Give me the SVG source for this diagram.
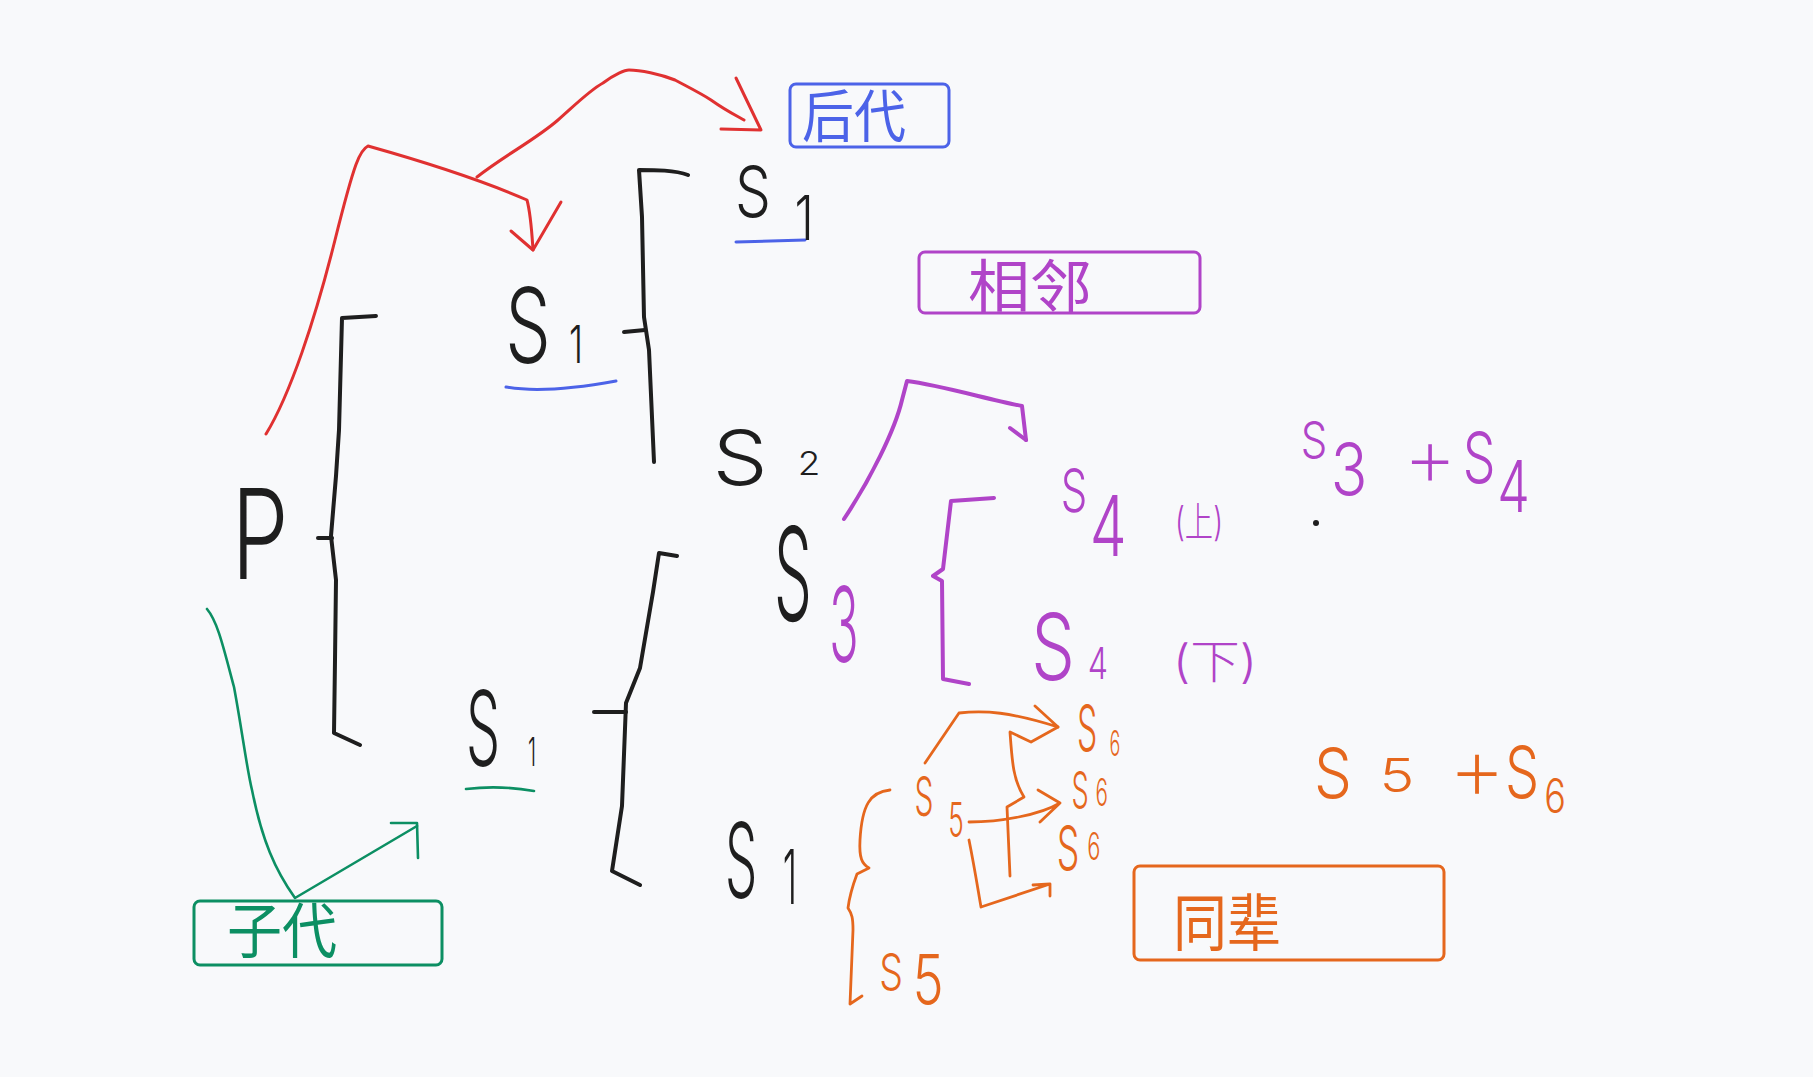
<svg xmlns="http://www.w3.org/2000/svg" width="1813" height="1077" viewBox="0 0 1813 1077">
<style>
.bg{fill:#f8f9fb}
.ln{fill:none;stroke-linecap:round;stroke-linejoin:round}
.k{stroke:#1e1e1e;stroke-width:4}
.r{stroke:#e03131;stroke-width:3}
.b{stroke:#4c63e8;stroke-width:3}
.g{stroke:#0c8f63;stroke-width:2.6}
.p{stroke:#b044c8;stroke-width:4}
.o{stroke:#e5671d;stroke-width:2.8}
.box{fill:none;stroke-width:3}
.t{font-family:Inter,"Liberation Sans","Noto Sans CJK SC",sans-serif;font-weight:300;text-anchor:middle}
.pl{font-weight:200}
.cj{font-family:"Noto Sans CJK SC","Liberation Sans",sans-serif;text-anchor:middle}
.tk{fill:#1e1e1e}.tp{fill:#b044c8}.to{fill:#e5671d}.tb{fill:#4c63e8}.tg{fill:#0c8f63}
</style>
<rect class="bg" x="0" y="0" width="1813" height="1077"/>

<g id="brackets">
<path class="ln k" d="M376,316 L342,318 L339,430 L336,476 L331,536 L336,580 L335,660 L334,733 L360,745"/>
<path class="ln k" d="M318,538 L332,538"/>
<path class="ln k" d="M688,175 C675,170 655,170 639,170 L642,217 L644,317 L649,350 L654,462"/>
<path class="ln k" d="M624,332 L645,330"/>
<path class="ln k" d="M677,556 L659,553 L653,592 L640,668 L626,703 L622,806 L612,871 L640,885"/>
<path class="ln k" d="M594,712 L626,712"/>
<path class="ln p" d="M994,498 L951,501 L943,569 L933,576 L942,581 L943,679 L969,684"/>
<path class="ln o" d="M890,790 C870,792 862,805 860,840 C859,858 862,864 869,868 L857,874 C851,890 849,900 848,908 C852,914 853,918 853,930 L850,1004 L862,996"/>
</g>

<g id="underlines">
<path class="ln b" d="M736,242 L805,240"/>
<path class="ln b" d="M506,387 Q545,394 616,381"/>
<path class="ln g" d="M466,789 Q500,785 534,791"/>
</g>

<g id="connectors">
<path class="ln r" d="M266,434 C290,395 315,320 335,240 S360,150 368,146 C400,155 470,175 527,200 C531,215 532,235 533,250"/>
<path class="ln r" stroke-width="4" d="M511,231 L533,250 L561,202"/>
<path class="ln r" d="M477,177 C505,155 535,140 558,120 C575,105 590,90 603,83 C615,74 625,70 629,70 C640,70 660,74 675,80 C690,88 702,94 711,100 C725,110 735,115 744,120"/>
<path class="ln r" stroke-width="5" d="M736,78 L761,130 L721,129"/>
<path class="ln p" d="M844,519 C870,480 895,430 902,400 L907,381 C940,385 990,400 1022,406 L1026,440"/>
<path class="ln p" d="M1010,428 L1026,440"/>
<path class="ln g" d="M207,609 C218,622 224,650 234,687 C242,730 247,770 252,790 C262,840 275,870 295,898 L417,826"/>
<path class="ln g" stroke-width="3.5" d="M391,823 L417,823 L418,858"/>
<path class="ln o" d="M925,763 L959,713 C985,710 1010,712 1058,727 L1035,706"/>
<path class="ln o" d="M1058,727 L1031,742 L1010,732 C1012,760 1013,780 1024,797 L1007,807 L1010,876"/>
<path class="ln o" d="M969,822 C1000,822 1040,815 1060,803 L1038,790 M1060,803 L1040,822"/>
<path class="ln o" d="M969,840 C975,870 978,890 981,907 L1050,884 L1033,885 M1050,884 L1050,896"/>
</g>

<g id="node-P"><text class="t tk" x="260" y="579" font-size="125" textLength="57" lengthAdjust="spacingAndGlyphs">P</text></g>

<g id="node-S1-top">
<text class="t tk" transform="translate(753,0) scale(0.79,1)"><tspan x="0" y="217" font-size="72">S</tspan><tspan x="64.6" y="240" font-size="62">1</tspan></text>
</g>
<g id="node-S1-mid">
<text class="t tk" transform="translate(528,0) scale(0.686,1)"><tspan x="0" y="363" font-size="105">S</tspan><tspan x="70" y="363" font-size="52">1</tspan></text>
</g>
<g id="node-S2">
<text class="t tk" transform="translate(740,0) scale(1.15,1)"><tspan x="0" y="485" font-size="76">S</tspan><tspan x="60" y="475" font-size="32">2</tspan></text>
</g>
<g id="node-S3">
<text class="t tk" transform="translate(793,0) scale(0.461,1)"><tspan x="0" y="621" font-size="130">S</tspan><tspan class="tp" x="110.6" y="662" font-size="105">3</tspan></text>
</g>
<g id="node-S1-low">
<text class="t tk" transform="translate(483,0) scale(0.514,1)"><tspan x="0" y="766" font-size="105">S</tspan><tspan x="95.3" y="766" font-size="40">1</tspan></text>
</g>
<g id="node-S1-bottom">
<text class="t tk" transform="translate(741,0) scale(0.486,1)"><tspan x="0" y="898" font-size="105">S</tspan><tspan x="100.8" y="904" font-size="75">1</tspan></text>
</g>

<g id="node-S4-up">
<text class="t tp" transform="translate(1074,0) scale(0.7,1)"><tspan x="0" y="512" font-size="60">S</tspan><tspan x="49" y="556" font-size="84">4</tspan></text>
<text class="t tp" x="1199" y="536" font-size="40" textLength="48" lengthAdjust="spacingAndGlyphs">(上)</text>
</g>
<g id="node-S4-down">
<text class="t tp" transform="translate(1053,0) scale(0.75,1)"><tspan x="0" y="680" font-size="92">S</tspan><tspan x="60" y="679" font-size="43">4</tspan></text>
<text class="t tp" x="1215" y="678" font-size="46" textLength="84" lengthAdjust="spacingAndGlyphs">(下)</text>
</g>
<g id="node-S3-plus-S4">
<text class="t tp" transform="translate(1314,0) scale(0.84,1)"><tspan x="0" y="458" font-size="50">S</tspan><tspan x="41.7" y="495" font-size="72">3</tspan></text>
<text class="t tp pl" x="1430" y="486" font-size="84">+</text>
<text class="t tp" transform="translate(1479,0) scale(0.72,1)"><tspan x="0" y="483" font-size="72">S</tspan><tspan x="48" y="512" font-size="72">4</tspan></text>
<circle cx="1316" cy="523" r="3" fill="#1e1e1e"/>
</g>

<g id="node-S6-top">
<text class="t to" transform="translate(1087,0) scale(0.5,1)"><tspan x="0" y="751" font-size="64">S</tspan><tspan x="56" y="756" font-size="36">6</tspan></text>
</g>
<g id="node-S5">
<text class="t to" transform="translate(924,0) scale(0.545,1)"><tspan x="0" y="816" font-size="55">S</tspan><tspan x="58.7" y="837" font-size="48">5</tspan></text>
</g>
<g id="node-S6-mid">
<text class="t to" transform="translate(1080,0) scale(0.545,1)"><tspan x="0" y="808" font-size="50">S</tspan><tspan x="40" y="806" font-size="38">6</tspan></text>
</g>
<g id="node-S6-low">
<text class="t to" transform="translate(1068,0) scale(0.576,1)"><tspan x="0" y="870" font-size="62">S</tspan><tspan x="45" y="860" font-size="38">6</tspan></text>
</g>
<g id="node-S5-bottom">
<text class="t to" transform="translate(891,0) scale(0.75,1)"><tspan x="0" y="990" font-size="50">S</tspan><tspan x="49.3" y="1005" font-size="70">5</tspan></text>
</g>
<g id="node-S5-plus-S6">
<text class="t to" x="1333" y="798" font-size="70" transform="translate(1333,0) scale(0.857,1) translate(-1333,0)">S</text>
<text class="t to" x="1397" y="792" font-size="47" transform="translate(1397,0) scale(1.25,1) translate(-1397,0)">5</text>
<text class="t to pl" x="1477" y="800" font-size="90">+</text>
<text class="t to" transform="translate(1522,0) scale(0.75,1)"><tspan x="0" y="798" font-size="72">S</tspan><tspan x="44" y="813" font-size="48">6</tspan></text>
</g>

<g id="node-houdai">
<rect class="box" x="790" y="84" width="159" height="63" rx="6" stroke="#4c63e8"/>
<text class="cj tb" x="854" y="137" font-size="57" textLength="104" lengthAdjust="spacingAndGlyphs">后代</text>
</g>
<g id="node-xianglin">
<rect class="box" x="919" y="252" width="281" height="61" rx="6" stroke="#b044c8"/>
<text class="cj tp" x="1030" y="307" font-size="57" textLength="124" lengthAdjust="spacingAndGlyphs">相邻</text>
</g>
<g id="node-zidai">
<rect class="box" x="194" y="901" width="248" height="64" rx="6" stroke="#0c8f63"/>
<text class="cj tg" x="282" y="953" font-size="60" textLength="110" lengthAdjust="spacingAndGlyphs">子代</text>
</g>
<g id="node-tongbei">
<rect class="box" x="1134" y="866" width="310" height="94" rx="6" stroke="#e5671d"/>
<text class="cj to" x="1227" y="946" font-size="62" textLength="108" lengthAdjust="spacingAndGlyphs">同辈</text>
</g>
</svg>
